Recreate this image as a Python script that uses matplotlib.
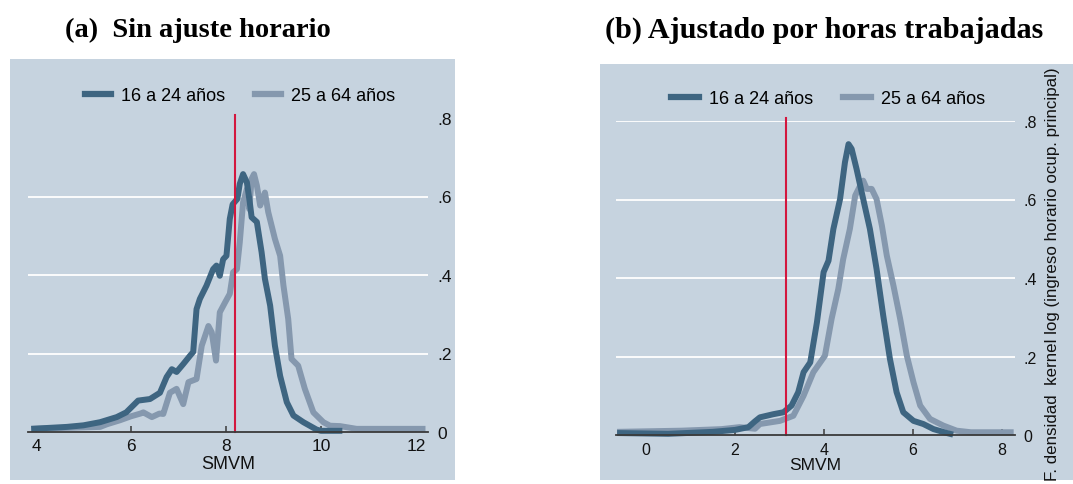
import matplotlib
matplotlib.use("Agg")
import matplotlib.pyplot as plt
from matplotlib.patches import Rectangle
from matplotlib.lines import Line2D

# ---------------- data ----------------
series_labels = ["16 a 24 años", "25 a 64 años"]

# (a) Sin ajuste horario: kernel density of log monthly income, in SMVM
a_young_x = [3.9, 4.65, 5.0, 5.35, 5.7, 5.9, 6.15, 6.4, 6.61, 6.75, 6.86, 6.96, 7.1,
             7.24, 7.31, 7.38, 7.45, 7.59, 7.73, 7.8, 7.87, 7.94, 8.01, 8.08, 8.14,
             8.24, 8.29, 8.36, 8.44, 8.5, 8.54, 8.65, 8.75, 8.82, 8.93, 9.03, 9.14,
             9.28, 9.42, 9.63, 9.91, 10.0, 10.45]
a_young_y = [0.008, 0.013, 0.017, 0.025, 0.038, 0.05, 0.08, 0.084, 0.10, 0.14, 0.16,
             0.153, 0.173, 0.194, 0.204, 0.313, 0.339, 0.373, 0.415, 0.424, 0.398,
             0.44, 0.449, 0.543, 0.58, 0.594, 0.632, 0.657, 0.636, 0.586, 0.547,
             0.535, 0.458, 0.39, 0.322, 0.22, 0.143, 0.076, 0.042, 0.025, 0.006,
             0.003, 0.003]

a_adult_x = [3.9, 5.35, 5.5, 5.77, 6.0, 6.2, 6.26, 6.44, 6.6, 6.68, 6.82, 6.96, 7.1,
             7.21, 7.38, 7.49, 7.63, 7.7, 7.79, 7.87, 7.98, 8.08, 8.15, 8.23, 8.29,
             8.36, 8.44, 8.49, 8.54, 8.59, 8.65, 8.72, 8.82, 8.89, 9.03, 9.14, 9.21,
             9.31, 9.38, 9.52, 9.66, 9.84, 10.05, 10.19, 10.4, 10.75, 12.2]
a_adult_y = [0.008, 0.013, 0.02, 0.03, 0.04, 0.047, 0.05, 0.038, 0.047, 0.046, 0.10,
             0.11, 0.071, 0.127, 0.135, 0.22, 0.27, 0.254, 0.182, 0.305, 0.33, 0.352,
             0.407, 0.415, 0.483, 0.585, 0.619, 0.568, 0.645, 0.657, 0.628, 0.577,
             0.61, 0.56, 0.492, 0.449, 0.373, 0.288, 0.186, 0.169, 0.11, 0.05, 0.025,
             0.016, 0.015, 0.008, 0.008]

# (b) Ajustado por horas trabajadas: log hourly income, in SMVM
b_young_x = [-0.65, 0.5, 1.5, 2.0, 2.3, 2.45, 2.56, 2.86, 3.09, 3.27, 3.42, 3.54, 3.69,
             3.84, 3.99, 4.1, 4.21, 4.36, 4.47, 4.55, 4.62, 4.73, 4.88, 5.03, 5.18,
             5.33, 5.48, 5.63, 5.78, 6.01, 6.23, 6.46, 6.76, 6.9]
b_young_y = [0.005, 0.003, 0.008, 0.013, 0.02, 0.035, 0.045, 0.053, 0.058, 0.075,
             0.109, 0.16, 0.185, 0.287, 0.415, 0.444, 0.525, 0.601, 0.695, 0.741,
             0.729, 0.678, 0.601, 0.525, 0.423, 0.304, 0.194, 0.109, 0.058, 0.036,
             0.028, 0.015, 0.005, 0.001]

b_adult_x = [-0.65, 0.8, 1.7, 2.1, 2.45, 2.56, 3.01, 3.31, 3.54, 3.76, 4.02, 4.17,
             4.32, 4.43, 4.58, 4.7, 4.81, 4.88, 4.96, 5.07, 5.18, 5.3, 5.41, 5.56,
             5.71, 5.86, 6.01, 6.16, 6.38, 6.68, 6.98, 7.3, 8.26]
b_adult_y = [0.008, 0.011, 0.015, 0.02, 0.016, 0.028, 0.036, 0.049, 0.10, 0.16,
             0.202, 0.296, 0.372, 0.448, 0.525, 0.61, 0.635, 0.648, 0.627, 0.627,
             0.601, 0.533, 0.457, 0.38, 0.296, 0.202, 0.134, 0.075, 0.041, 0.024,
             0.011, 0.007, 0.007]

# minimum wage reference (SMVM) in each panel
a_smvm = 8.19
b_smvm = 3.14

x_ticks_a = [4, 6, 8, 10, 12]
x_ticks_b = [0, 2, 4, 6, 8]
y_ticks = [0, 0.2, 0.4, 0.6, 0.8]
y_tick_labels = ["0", ".2", ".4", ".6", ".8"]

titles = ["(a)  Sin ajuste horario", "(b) Ajustado por horas trabajadas"]
x_title = "SMVM"
y_title_b = "F. densidad  kernel log (ingreso horario ocup. principal)"

# ---------------- style ----------------
BG = "#C6D3DF"
DARK = "#3E6581"
LIGHT = "#8598AE"
RED = "#D3173E"
AXIS = "#3A3A3A"
SANS = ["Liberation Sans", "DejaVu Sans"]
SERIF = ["Liberation Serif", "DejaVu Serif"]

W, H = 1073, 485
fig = plt.figure(figsize=(W / 100, H / 100), dpi=100)
fig.patch.set_facecolor("white")


def fx(px):
    return px / W


def fy(py):
    return 1 - py / H


def panel_bg(x0, y0, x1, y1):
    fig.patches.append(Rectangle((fx(x0), fy(y1)), fx(x1 - x0), (y1 - y0) / H,
                                 transform=fig.transFigure, facecolor=BG,
                                 edgecolor="none", zorder=-10))


def make_axes(left, right, y0, y8):
    ax = fig.add_axes([fx(left), fy(y0), fx(right - left), (y0 - y8) / H])
    ax.set_zorder(1)
    return ax


def style_axes(ax, xlim, xticks, grid_levels, ylab_pad, xlab_pad, lab_size):
    ax.set_facecolor("none")
    ax.set_xlim(*xlim)
    ax.set_ylim(0, 0.8)
    for lvl in grid_levels:
        ax.axhline(lvl, color="white", lw=1.3, zorder=1)
    for s in ["top", "left", "right"]:
        ax.spines[s].set_visible(False)
    ax.spines["bottom"].set_color(AXIS)
    ax.spines["bottom"].set_linewidth(1.3)
    ax.spines["bottom"].set_zorder(4)
    ax.set_xticks(xticks)
    ax.set_xticklabels([str(t) for t in xticks], fontfamily=SANS, fontsize=lab_size)
    ax.tick_params(axis="x", direction="in", length=4, width=1.1, color=AXIS,
                   pad=xlab_pad, labelcolor="#111111")
    ax.yaxis.tick_right()
    ax.set_yticks(y_ticks)
    ax.set_yticklabels(y_tick_labels, fontfamily=SANS, fontsize=lab_size)
    ax.tick_params(axis="y", length=0, pad=ylab_pad, labelcolor="#111111")


def draw_panel(ax, xy_young, xy_adult, smvm):
    ax.plot(*xy_adult, color=LIGHT, lw=4.3, solid_joinstyle="round",
            solid_capstyle="butt", zorder=2, clip_on=False)
    ax.plot(*xy_young, color=DARK, lw=4.3, solid_joinstyle="round",
            solid_capstyle="butt", zorder=2.5, clip_on=False)
    ax.plot([smvm, smvm], [0, 0.808], color=RED, lw=1.5, zorder=3, clip_on=False)


def legend(cx, cy, handle_len):
    handles = [Line2D([], [], color=DARK, lw=4.5),
               Line2D([], [], color=LIGHT, lw=4.5)]
    fig.legend(handles, series_labels, loc="center",
               bbox_to_anchor=(fx(cx), fy(cy)), ncol=2, frameon=False,
               prop={"family": SANS, "size": 13}, handlelength=handle_len,
               handletextpad=0.55, columnspacing=1.65, borderpad=0, borderaxespad=0)


# ---------------- panel (a) ----------------
panel_bg(10, 60, 455, 481)
ax_a = make_axes(28, 428, 433, 119)
style_axes(ax_a, (3.832, 12.253), x_ticks_a, [0.2, 0.4, 0.6], 6.5, 4, 12.5)
draw_panel(ax_a, (a_young_x, a_young_y), (a_adult_x, a_adult_y), a_smvm)
legend(240, 97, 1.45)
fig.text(fx(228), fy(465), x_title, ha="center", va="center",
         fontfamily=SANS, fontsize=13, color="#111111")

# ---------------- panel (b) ----------------
panel_bg(600, 65, 1073, 481)
ax_b = make_axes(616, 1015, 436, 122)
style_axes(ax_b, (-0.674, 8.29), x_ticks_b, [0.2, 0.4, 0.6, 0.8], 6, 5, 11.5)
draw_panel(ax_b, (b_young_x, b_young_y), (b_adult_x, b_adult_y), b_smvm)
legend(828, 100, 1.55)
fig.text(fx(815), fy(466), x_title, ha="center", va="center",
         fontfamily=SANS, fontsize=12.5, color="#111111")
fig.text(fx(1053), fy(67), y_title_b, rotation=90, ha="center", va="top",
         fontfamily=SANS, fontsize=12.2, color="#111111")

# ---------------- titles ----------------
fig.text(fx(65), fy(30), titles[0], ha="left", va="center",
         fontfamily=SERIF, fontweight="bold", fontsize=20.5)
fig.text(fx(605), fy(30), titles[1], ha="left", va="center",
         fontfamily=SERIF, fontweight="bold", fontsize=21.7)

fig.savefig("out.png", dpi=100, facecolor=fig.get_facecolor())
